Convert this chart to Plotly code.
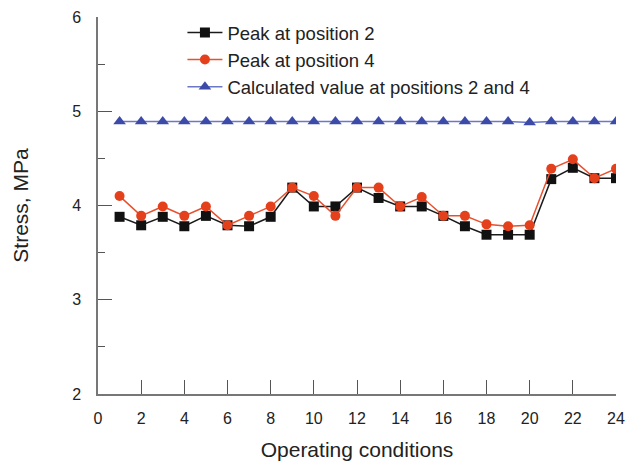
import plotly.graph_objects as go

conditions = list(range(1, 25))
peak_pos2 = [3.88, 3.79, 3.88, 3.78, 3.89, 3.79, 3.78, 3.88, 4.19, 3.99, 3.99, 4.19,
             4.08, 3.99, 3.99, 3.89, 3.78, 3.69, 3.69, 3.69, 4.28, 4.40, 4.29, 4.29]
peak_pos4 = [4.10, 3.89, 3.99, 3.89, 3.99, 3.79, 3.89, 3.99, 4.19, 4.10, 3.89, 4.19,
             4.19, 3.99, 4.09, 3.89, 3.89, 3.80, 3.78, 3.79, 4.39, 4.49, 4.29, 4.39]
calculated = [4.89, 4.89, 4.89, 4.89, 4.89, 4.89, 4.89, 4.89, 4.89, 4.89, 4.89, 4.89,
              4.89, 4.89, 4.89, 4.89, 4.89, 4.89, 4.89, 4.88, 4.89, 4.89, 4.89, 4.89]
names = ["Peak at position 2", "Peak at position 4", "Calculated value at positions 2 and 4"]
x_ticks = list(range(0, 25, 2))
y_ticks = [2, 3, 4, 5, 6]

FONT = "Liberation Sans, Arial, sans-serif"

fig = go.Figure()
fig.add_trace(go.Scatter(
    x=conditions, y=peak_pos2, name=names[0], mode="lines+markers",
    line=dict(color="#1a1a1a", width=1.5),
    marker=dict(symbol="square", size=10, color="#111111"),
))
fig.add_trace(go.Scatter(
    x=conditions, y=peak_pos4, name=names[1], mode="lines+markers",
    line=dict(color="#e8502e", width=1.5),
    marker=dict(symbol="circle", size=10, color="#e5401c"),
))
fig.add_trace(go.Scatter(
    x=conditions, y=calculated, name=names[2], mode="lines+markers",
    line=dict(color="#6b78c6", width=1.5),
    marker=dict(symbol="triangle-up", size=11, color="#3d4ba8"),
))

axis_common = dict(
    showgrid=False, zeroline=False, showline=True, linecolor="#777777", linewidth=1.5,
    ticks="inside", ticklen=14, tickwidth=1.2, tickcolor="#555555",
    tickfont=dict(family=FONT, size=16, color="#222222"),
    title_font=dict(family=FONT, size=21, color="#222222"),
    automargin=False,
)

fig.update_xaxes(
    range=[0, 24], tickvals=x_ticks, ticktext=[str(v) for v in x_ticks],
    title_text="Operating conditions", title_standoff=20, ticklabelstandoff=9,
    **axis_common,
)
fig.update_yaxes(
    range=[2, 6], tickvals=y_ticks, ticktext=[str(v) for v in y_ticks],
    title_text="Stress, MPa", title_standoff=38, ticklabelstandoff=12,
    minor=dict(ticks="inside", ticklen=7, tickcolor="#555555", dtick=0.5, showgrid=False),
    **axis_common,
)

fig.update_layout(
    width=633, height=461,
    margin=dict(l=98, r=17, t=17, b=67, autoexpand=False),
    paper_bgcolor="white", plot_bgcolor="white",
    font=dict(family=FONT, color="#222222"),
    legend=dict(
        x=0.163, y=0.9696, xanchor="left", yanchor="top", yref="container",
        bgcolor="rgba(0,0,0,0)", font=dict(family=FONT, size=18.5, color="#222222"),
        itemwidth=35, tracegroupgap=0,
    ),
    showlegend=True,
)

fig.write_html("out.html")
